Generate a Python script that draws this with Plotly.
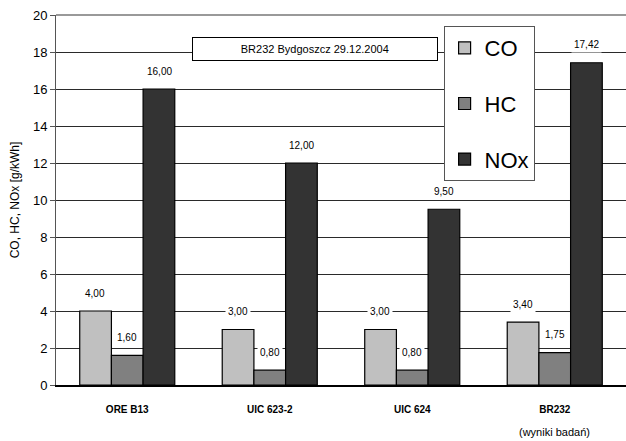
import plotly.graph_objects as go

# Emission limits and measured values per standard / locomotive
categories = ["ORE B13", "UIC 623-2", "UIC 624", "BR232"]
tick_labels = ["<b>ORE B13</b>", "<b>UIC 623-2</b>", "<b>UIC 624</b>", "<b>BR232</b>"]
co_values = [4.00, 3.00, 3.00, 3.40]
hc_values = [1.60, 0.80, 0.80, 1.75]
nox_values = [16.00, 12.00, 9.50, 17.42]

series = [
    ("CO", co_values, "#c0c0c0", -32),
    ("HC", hc_values, "#808080", 0),
    ("NOx", nox_values, "#333333", 32),
]

FONT = "Liberation Sans, Arial"

fig = go.Figure()
annotations = []
for name, vals, color, dx in series:
    fig.add_trace(go.Bar(
        x=categories, y=vals, name=name, legendgroup=name,
        marker=dict(color=color, line=dict(color="#000000", width=1.2)),
    ))
    for cat, v in zip(categories, vals):
        annotations.append(dict(
            x=cat, y=v, xref="x", yref="y", xshift=dx, yshift=18,
            text=f"{v:.2f}".replace(".", ","), showarrow=False,
            font=dict(family=FONT, size=10, color="#000000"),
            bgcolor="#ffffff", borderpad=2,
        ))

annotations.append(dict(
    x=0.455, y=0.908, xref="paper", yref="paper",
    text="&nbsp;" * 14 + "BR232 Bydgoszcz 29.12.2004" + "&nbsp;" * 14, showarrow=False,
    font=dict(family=FONT, size=11, color="#000000"),
    bgcolor="#ffffff", bordercolor="#000000", borderwidth=1, borderpad=5,
    xanchor="center", yanchor="middle",
))
annotations.append(dict(
    x="BR232", y=-0.127, xref="x", yref="paper",
    text="(wyniki badań)", showarrow=False,
    font=dict(family=FONT, size=11, color="#000000"),
    xanchor="center", yanchor="middle",
))

fig.update_layout(
    width=626, height=441,
    margin=dict(l=56, r=0, t=15, b=56),
    paper_bgcolor="#ffffff", plot_bgcolor="#ffffff",
    barmode="group", bargap=0.333, bargroupgap=0,
    font=dict(family=FONT, size=12, color="#000000"),
    legend=dict(
        x=0.68, y=0.97, xanchor="left", yanchor="top",
        bgcolor="#ffffff", bordercolor="#555555", borderwidth=1,
        font=dict(family=FONT, size=22, color="#000000"),
        tracegroupgap=24, itemwidth=30,
    ),
    annotations=annotations,
    showlegend=True,
)
fig.update_xaxes(
    tickmode="array", tickvals=categories, ticktext=tick_labels,
    tickfont=dict(family=FONT, size=10), ticklabelstandoff=14,
    showline=True, linecolor="#000000", linewidth=1.5, ticks="",
    showgrid=False,
)
fig.update_yaxes(
    range=[0, 20], dtick=2, tickfont=dict(family=FONT, size=13),
    showgrid=True, gridcolor="#2a2a2a", gridwidth=1,
    showline=True, linecolor="#555555", linewidth=1,
    ticks="outside", ticklen=5, tickcolor="#555555",
    title=dict(text="CO, HC, NOx [g/kWh]", font=dict(family=FONT, size=12), standoff=10),
    zeroline=False,
)
# top border of the plotting area
fig.add_shape(type="line", xref="paper", yref="paper", x0=0, x1=1, y0=1, y1=1,
              line=dict(color="#777777", width=1.5))

fig.write_html("out.html")
